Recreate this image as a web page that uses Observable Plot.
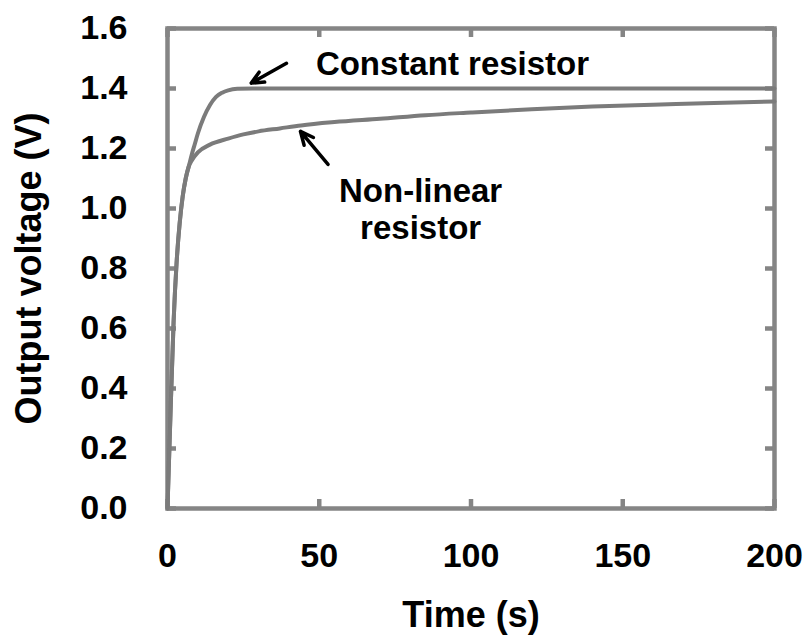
<!DOCTYPE html>
<html>
<head>
<meta charset="utf-8">
<script src="https://cdn.jsdelivr.net/npm/d3@7"></script>
<script src="https://cdn.jsdelivr.net/npm/@observablehq/plot@0.6"></script>
<style>
  html, body { margin: 0; padding: 0; background: #fff; }
</style>
</head>
<body>
<div id="chart"></div>
<script>
// Output voltage step response for a constant and a non-linear resistor
const constantT = [0, 1, 2, 3, 4, 5, 6, 7, 8, 9, 10, 12, 14, 16, 18, 20, 23, 28, 200];
const constantV = [0, 0.32, 0.62, 0.82, 0.95, 1.04, 1.10, 1.14, 1.18, 1.215, 1.25, 1.305, 1.345, 1.372, 1.386, 1.394, 1.399, 1.40, 1.40];

const nonlinearT = [0, 1, 2, 3, 4, 5, 6, 7, 8, 10, 14, 20, 25, 30, 37, 44, 55, 70, 85, 100, 120, 140, 160, 180, 200];
const nonlinearV = [0, 0.32, 0.62, 0.82, 0.95, 1.04, 1.10, 1.14, 1.16, 1.187, 1.213, 1.233, 1.247, 1.257, 1.267, 1.277, 1.288, 1.299, 1.311, 1.320, 1.331, 1.340, 1.346, 1.352, 1.357];

const xTicks = [0, 50, 100, 150, 200];
const yTicks = [0, 0.2, 0.4, 0.6, 0.8, 1.0, 1.2, 1.4, 1.6];

// Annotation labels and their pointer arrows (time, voltage)
const noteLabels = ["Constant resistor", "Non-linear\nresistor"];
const noteX = [93.9, 83.4];
const noteY = [1.485, 1.0];
const arrowX1 = [39.2, 52.9];
const arrowY1 = [1.484, 1.147];
const arrowX2 = [27.6, 43.8];
const arrowY2 = [1.418, 1.257];

const constantData = constantT.map((t, i) => ({t, v: constantV[i]}));
const nonlinearData = nonlinearT.map((t, i) => ({t, v: nonlinearV[i]}));
const arrows = arrowX1.map((x, i) => ({x1: x, y1: arrowY1[i], x2: arrowX2[i], y2: arrowY2[i]}));
const notes = noteLabels.map((label, i) => ({label, x: noteX[i], y: noteY[i]}));

const W = 803, H = 637;
const mLeft = 167, mRight = 29, mTop = 28, mBottom = 129;
const frameW = W - mLeft - mRight;
const frameH = H - mTop - mBottom;
const frameColor = "#858585";
const curveColor = "#7b7b7b";
const tickLen = 9;

// inward-pointing tick marks on each side of the frame
const tickRules = [
  Plot.ruleX(xTicks.slice(), {stroke: frameColor, strokeWidth: 4.5, insetTop: frameH - tickLen}),
  Plot.ruleX(xTicks.slice(), {stroke: frameColor, strokeWidth: 4.5, insetBottom: frameH - tickLen}),
  Plot.ruleY(yTicks.slice(), {stroke: frameColor, strokeWidth: 4.5, insetRight: frameW - tickLen}),
  Plot.ruleY(yTicks.slice(), {stroke: frameColor, strokeWidth: 4.5, insetLeft: frameW - tickLen})
];

const chart = Plot.plot({
  width: W,
  height: H,
  marginLeft: mLeft,
  marginRight: mRight,
  marginTop: mTop,
  marginBottom: mBottom,
  style: {
    fontFamily: "'Liberation Sans', Arial, sans-serif",
    fontWeight: "bold",
    fontSize: "34px",
    color: "#000",
    background: "#fff"
  },
  x: {domain: [0, 200]},
  y: {domain: [0, 1.6]},
  marks: [
    ...tickRules,
    Plot.frame({stroke: frameColor, strokeWidth: 4.5}),
    Plot.axisX({
      anchor: "bottom", ticks: xTicks, tickSize: 0, tickPadding: 34,
      label: "Time (s)", labelAnchor: "center", labelOffset: 118, labelArrow: "none"
    }),
    Plot.axisY({
      anchor: "left", ticks: yTicks, tickSize: 0, tickPadding: 40,
      tickFormat: d3.format(".1f"),
      label: "Output voltage (V)", labelAnchor: "center", labelOffset: 152, labelArrow: "none"
    }),
    Plot.line(nonlinearData, {x: "t", y: "v", stroke: curveColor, strokeWidth: 4, curve: "monotone-x"}),
    Plot.line(constantData, {x: "t", y: "v", stroke: curveColor, strokeWidth: 4, curve: "monotone-x"}),
    Plot.arrow(arrows, {
      x1: "x1", y1: "y1", x2: "x2", y2: "y2",
      stroke: "#000", strokeWidth: 3.5, headLength: 14, headAngle: 50, insetEnd: 0
    }),
    Plot.text(notes, {
      x: "x", y: "y", text: "label",
      fontSize: 33, fontWeight: "bold", fill: "#000",
      textAnchor: "middle", lineAnchor: "middle", lineHeight: 1.12
    })
  ]
});

// Axis titles use a larger type than the tick labels
chart.querySelectorAll('[aria-label="x-axis label"], [aria-label="y-axis label"]').forEach(g => {
  g.setAttribute("font-size", "36px");
});

document.getElementById("chart").appendChild(chart);
</script>
</body>
</html>
